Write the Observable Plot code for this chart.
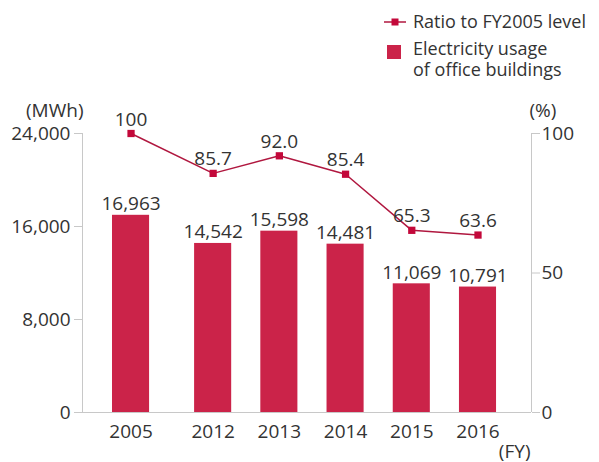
<!DOCTYPE html>
<html>
<head>
<meta charset="utf-8">
<script src="https://cdn.jsdelivr.net/npm/d3@7"></script>
<script src="https://cdn.jsdelivr.net/npm/@observablehq/plot@0.6"></script>
<style>
  html, body { margin: 0; padding: 0; background: #fff; }
  body { width: 599px; height: 462px; overflow: hidden; font-family: "Open Sans", sans-serif; color: #333; }
  #legend { position: relative; height: 92px; font-size: 18px; line-height: 20px; color: #333; }
  .item { position: absolute; left: 384px; display: flex; align-items: flex-start; }
  .item svg { flex: none; }
  .txt { margin-left: 7px; }
  .ln { display: block; height: 21px; line-height: 21px; }
</style>
</head>
<body>
<div id="legend">
  <div class="item" style="top:11px"><svg width="22" height="22"><line x1="0" y1="11" x2="22" y2="11" stroke="#b0173f" stroke-width="1.5"/><rect x="7.5" y="7.5" width="7" height="7" fill="#c3083a"/></svg><span class="txt"><span class="ln">Ratio to FY2005 level</span></span></div>
  <div class="item" style="top:38px"><svg width="22" height="24"><rect x="3" y="7" width="14" height="14" fill="#cb2349"/></svg><span class="txt"><span class="ln">Electricity usage</span><span class="ln">of office buildings</span></span></div>
</div>
<div id="chart"></div>
<script>
const years = ["2005", "2012", "2013", "2014", "2015", "2016"];
const usage = [16963, 14542, 15598, 14481, 11069, 10791];
const ratio = [100, 85.7, 92.0, 85.4, 65.3, 63.6];
const ratioLabels = ["100", "85.7", "92.0", "85.4", "65.3", "63.6"];
const leftTicks = [0, 8000, 16000, 24000];
const rightTicks = [0, 50, 100];

const barColor = "#cb2349";
const lineColor = "#b0173f";
const markerColor = "#c3083a";
const axisColor = "#c8c8c8";

// slot positions: extra gap after the first (2005) category
const slot = i => (i === 0 ? 0 : i + 0.24);
const k = 24000 / 100; // right axis (%) -> left axis (MWh) units
const data = years.map((y, i) => ({
  year: y, slot: slot(i), usage: usage[i], ratio: ratio[i], rs: ratio[i] * k, label: ratioLabels[i]
}));
const slots = data.map(d => d.slot);
const xMin = -0.733, xMax = 6.048, half = 0.28;

const chart = Plot.plot({
  width: 599,
  height: 370,
  marginLeft: 82,
  marginRight: 68,
  marginTop: 41,
  marginBottom: 50,
  style: { fontFamily: "Open Sans, sans-serif", fontSize: "19px", color: "#333", background: "#fff" },
  x: { domain: [xMin, xMax] },
  y: { domain: [0, 24000] },
  marks: [
    Plot.rectY(data, { x1: d => d.slot - half, x2: d => d.slot + half, y1: 0, y2: "usage", fill: barColor }),
    Plot.ruleX([xMin], { stroke: axisColor }),
    Plot.ruleX([xMax], { stroke: axisColor }),
    Plot.ruleY([0], { x1: xMin, x2: xMax, stroke: axisColor }),
    Plot.axisY({ ticks: leftTicks, tickFormat: d3.format(","), tickSize: 8, tickPadding: 4, stroke: axisColor, label: null }),
    Plot.axisY({ anchor: "right", ticks: rightTicks.map(v => v * k), tickFormat: d => String(Math.round(d / k)), tickSize: 8, tickPadding: 2, stroke: axisColor, label: null }),
    Plot.axisX({ ticks: slots, tickFormat: (d, i) => years[i], tickSize: 0, tickPadding: 12, label: null }),
    Plot.line(data, { x: "slot", y: "rs", stroke: lineColor, strokeWidth: 1.5 }),
    Plot.dot(data, { x: "slot", y: "rs", symbol: "square", r: 4.1, fill: markerColor, stroke: null }),
    Plot.text(data, { x: "slot", y: "usage", text: d => d3.format(",")(d.usage), lineAnchor: "bottom", dy: -5, fill: "#333" }),
    Plot.text(data, { x: "slot", y: "rs", text: "label", lineAnchor: "bottom", dy: -8, fill: "#333" }),
    Plot.text(["(MWh)"], { frameAnchor: "top-left", textAnchor: "end", lineAnchor: "bottom", dx: 1, dy: -17, fill: "#333" }),
    Plot.text(["(%)"], { frameAnchor: "top-right", textAnchor: "start", lineAnchor: "bottom", dx: -2, dy: -17, fill: "#333" }),
    Plot.text(["(FY)"], { frameAnchor: "bottom-right", textAnchor: "end", lineAnchor: "bottom", dx: -1, dy: 45, fill: "#333" })
  ]
});
document.getElementById("chart").appendChild(chart);
</script>
</body>
</html>
